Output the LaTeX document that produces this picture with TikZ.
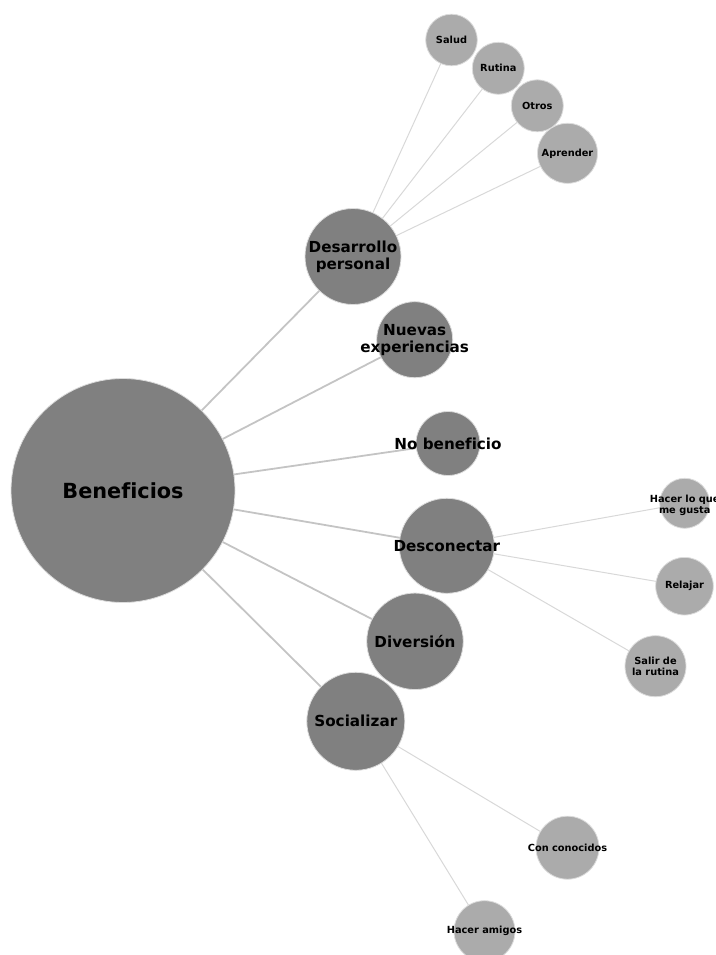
\documentclass[tikz,border=0pt]{standalone}
\usepackage{fontspec}
\setmainfont[Ligatures=CommonOff]{DejaVu Sans}
\usetikzlibrary{backgrounds}
\definecolor{maingray}{HTML}{808080}
\definecolor{leafgray}{HTML}{ABABAB}
\definecolor{rimgray}{HTML}{DCDCDC}
\definecolor{edgemain}{HTML}{C4C4C4}
\definecolor{edgeleaf}{HTML}{D8D8D8}
\tikzset{
  bubble/.style={circle, draw=rimgray, line width=0.8pt, inner sep=0pt},
  mainbubble/.style={bubble, fill=maingray},
  leafbubble/.style={bubble, fill=leafgray},
  roottext/.style={font=\fontsize{20.8}{24}\selectfont\bfseries, text=black, inner sep=0pt, align=center},
  midtext/.style={font=\fontsize{15.2}{17}\selectfont\bfseries, text=black, inner sep=0pt, align=center},
  leaftext/.style={font=\fontsize{9.8}{11.5}\selectfont\bfseries, text=black, inner sep=0pt, align=center},
  mainedge/.style={draw=edgemain, line width=1.8pt},
  leafedge/.style={draw=edgeleaf, line width=1pt},
}
\begin{document}
\begin{tikzpicture}[x=1pt,y=-1pt]
\useasboundingbox (0,0) rectangle (715,955);
% root
\node[mainbubble, minimum size=224] (ben) at (123,490.5) {};
\node[roottext] (bent) at (ben) {Beneficios};
% main children
\node[mainbubble, minimum size=96] (des) at (353,256.5) {};
\node[midtext] (dest) at (des) {Desarrollo\\personal};
\node[mainbubble, minimum size=76] (nue) at (414.7,339.7) {};
\node[midtext] (nuet) at (nue) {Nuevas\\experiencias};
\node[mainbubble, minimum size=64] (nob) at (448,443.5) {};
\node[midtext] (nobt) at (nob) {No beneficio};
\node[mainbubble, minimum size=95] (dsc) at (446.8,545.8) {};
\node[midtext] (dsct) at (dsc) {Desconectar};
\node[mainbubble, minimum size=96.5] (div) at (415,641.3) {};
\node[midtext] (divt) at (div) {Diversión};
\node[mainbubble, minimum size=98] (soc) at (355.8,721.3) {};
\node[midtext] (soct) at (soc) {Socializar};
% leaves of Desarrollo personal
\node[leafbubble, minimum size=51.6] (sal) at (451.5,40) {};
\node[leaftext] (salt) at (sal) {Salud};
\node[leafbubble, minimum size=52] (rut) at (498.3,68.3) {};
\node[leaftext] (rutt) at (rut) {Rutina};
\node[leafbubble, minimum size=52] (otr) at (537.3,105.8) {};
\node[leaftext] (otrt) at (otr) {Otros};
\node[leafbubble, minimum size=60] (apr) at (567.5,153.3) {};
\node[leaftext] (aprt) at (apr) {Aprender};
% leaves of Desconectar
\node[leafbubble, minimum size=50] (hac) at (684.7,503.3) {};
\node[leaftext] (hact) at ([yshift=-2pt]hac.center) {Hacer lo que\\me gusta};
\node[leafbubble, minimum size=57.6] (rel) at (684.5,586.2) {};
\node[leaftext] (relt) at (rel) {Relajar};
\node[leafbubble, minimum size=61] (sdr) at (655.5,666.2) {};
\node[leaftext] (sdrt) at (sdr) {Salir de\\la rutina};
% leaves of Socializar
\node[leafbubble, minimum size=63] (con) at (567.5,847.7) {};
\node[leaftext] (cont) at (con) {Con conocidos};
\node[leafbubble, minimum size=61] (ham) at (484.5,931.2) {};
\node[leaftext] (hamt) at (ham) {Hacer amigos};
% edges
\begin{pgfonlayer}{background}
\draw[mainedge] (ben.center) -- (des.center);
\draw[mainedge] (ben.center) -- (nue.center);
\draw[mainedge] (ben.center) -- (nob.center);
\draw[mainedge] (ben.center) -- (dsc.center);
\draw[mainedge] (ben.center) -- (div.center);
\draw[mainedge] (ben.center) -- (soc.center);
\draw[leafedge] (des.center) -- (sal.center);
\draw[leafedge] (des.center) -- (rut.center);
\draw[leafedge] (des.center) -- (otr.center);
\draw[leafedge] (des.center) -- (apr.center);
\draw[leafedge] (dsc.center) -- (hac.center);
\draw[leafedge] (dsc.center) -- (rel.center);
\draw[leafedge] (dsc.center) -- (sdr.center);
\draw[leafedge] (soc.center) -- (con.center);
\draw[leafedge] (soc.center) -- (ham.center);
\end{pgfonlayer}
\end{tikzpicture}
\end{document}
